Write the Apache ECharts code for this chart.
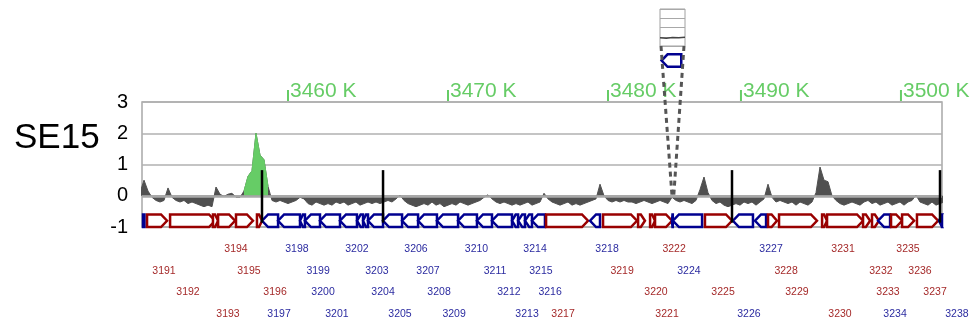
<!DOCTYPE html>
<html><head><meta charset="utf-8">
<script src="https://cdn.jsdelivr.net/npm/echarts@6/dist/echarts.min.js"></script>
<style>html,body{margin:0;padding:0;background:#fff}#c{width:976px;height:327px}</style>
</head><body><div id="c"></div><script>
// ---------------- data ----------------
const trackName = 'SE15';
const rulerLabels = ['3460 K', '3470 K', '3480 K', '3490 K', '3500 K'];
const rulerPos = [3460, 3470, 3480, 3488.31, 3498.31];

// signal (kb positions start + i*step)
const signalStart = 3450.75, signalStep = 0.25;
const signalValues = [
  0.1, 0.5, 0.15, -0.05, -0.15, -0.2, -0.15, 0.25, -0.05, -0.15,
  -0.2, -0.15, -0.25, -0.2, -0.25, -0.3, -0.35, -0.3, -0.35, 0.28,
  0.05, -0.02, 0.05, 0.08, -0.05, -0.05, 0.15, 0.62, 0.8, 2.0,
  1.3, 1.15, 0.3, -0.15, -0.2, -0.15, -0.2, -0.25, -0.2, -0.15,
  -0.05, -0.1, -0.25, -0.3, -0.2, -0.25, -0.3, -0.25, -0.3, -0.2,
  -0.25, -0.2, -0.3, -0.25, -0.2, -0.3, -0.25, -0.2, -0.25, -0.2,
  -0.25, -0.2, -0.15, -0.2, -0.1, 0.02, -0.15, -0.25, -0.3, -0.35,
  -0.3, -0.25, -0.3, -0.2, -0.3, -0.25, -0.35, -0.3, -0.25, -0.3,
  -0.2, -0.25, -0.3, -0.25, -0.2, -0.15, -0.05, 0.03, -0.1, -0.2,
  -0.25, -0.2, -0.25, -0.3, -0.25, -0.3, -0.25, -0.2, -0.3, -0.25,
  -0.2, 0.08, -0.1, -0.2, -0.25, -0.3, -0.25, -0.2, -0.3, -0.25,
  -0.3, -0.25, -0.2, -0.15, -0.1, 0.37, 0.0, -0.15, -0.2, -0.15,
  -0.2, -0.15, -0.2, -0.2, -0.25, -0.2, -0.15, -0.2, -0.25, -0.2,
  -0.15, -0.2, -0.25, -0.05, -0.15, -0.2, -0.15, -0.2, -0.25, -0.15,
  0.2, 0.6, 0.1, -0.15, -0.25, -0.2, -0.3, -0.35, -0.3, -0.25,
  -0.3, -0.2, -0.25, -0.2, -0.3, -0.2, -0.1, 0.37, -0.05, -0.2,
  -0.15, -0.2, -0.25, -0.2, -0.3, -0.2, -0.25, -0.3, -0.2, 0.1,
  0.92, 0.5, 0.45, 0.0, -0.15, -0.25, -0.3, -0.25, -0.2, -0.25,
  -0.3, -0.2, -0.15, -0.25, -0.2, -0.3, -0.25, -0.2, -0.3, -0.25,
  -0.2, -0.3, -0.2, -0.15, 0.02, -0.2, -0.25, -0.3, -0.2, -0.3,
  -0.25, -0.2
];
const peakFrom = 3457.25, peakTo = 3458.75;

const markerPos = [3458.375, 3465.94, 3487.75, 3500.75];
const markerTop = 0.82, markerBottom = -0.86;

const geneIds = ['3190','3191','3192','3193','3194','3195','3196','3197','3198','3199','3200','3201','3202','3203','3204','3205','3206','3207','3208','3209','3210','3211','3212','3213','3214','3215','3216','3217','3218','3219','3220','3221','3222','3223','3224','3225','3226','3227','3228','3229','3230','3231','3232','3233','3234','3235','3236','3237','3238'];
const geneStart = [3450.7,3451.19,3452.63,3455.31,3455.63,3456.75,3458.06,3458.38,3459.38,3460.75,3461.06,3462.0,3463.25,3464.31,3464.69,3465.0,3465.94,3467.13,3468.13,3469.31,3470.63,3471.81,3472.75,3474.0,3474.38,3474.81,3475.25,3476.13,3478.88,3479.69,3481.88,3482.63,3482.94,3484.0,3484.06,3486.06,3487.81,3489.19,3490.0,3490.69,3493.38,3493.69,3495.94,3496.5,3496.88,3497.69,3498.38,3499.31,3500.69];
const geneEnd = [3451.03,3452.44,3455.44,3455.63,3456.69,3457.81,3458.38,3459.38,3460.75,3461.06,3462.0,3463.25,3464.31,3464.69,3465.0,3465.94,3467.13,3468.13,3469.31,3470.63,3471.81,3472.75,3474.0,3474.38,3474.81,3475.25,3476.06,3478.75,3479.5,3481.81,3482.31,3482.94,3484.0,3484.05,3485.88,3487.75,3489.06,3489.88,3490.56,3493.06,3493.69,3495.94,3496.38,3496.94,3497.63,3498.38,3499.13,3500.63,3501.0];
const geneStrand = [-1,1,1,1,1,1,1,-1,-1,-1,-1,-1,-1,-1,-1,-1,-1,-1,-1,-1,-1,-1,-1,-1,-1,-1,-1,1,-1,1,1,1,1,-1,-1,1,-1,-1,1,1,1,1,1,1,-1,1,1,1,-1];

const labelIds = ['3191','3192','3193','3194','3195','3196','3197','3198','3199','3200','3201','3202','3203','3204','3205','3206','3207','3208','3209','3210','3211','3212','3213','3214','3215','3216','3217','3218','3219','3220','3221','3222','3224','3225','3226','3227','3228','3229','3230','3231','3232','3233','3234','3235','3236','3237','3238'];
const labelPos = [3452.25,3453.75,3456.25,3456.75,3457.56,3459.19,3459.44,3460.56,3461.88,3462.19,3463.06,3464.31,3465.56,3465.94,3467.0,3468.0,3468.75,3469.44,3470.38,3471.78,3472.94,3473.81,3474.94,3475.44,3475.81,3476.38,3477.19,3479.94,3480.88,3483.0,3483.69,3484.13,3485.06,3487.19,3488.81,3490.19,3491.13,3491.81,3494.5,3494.69,3497.06,3497.5,3497.94,3498.75,3499.5,3500.44,3501.81];

// inset (zoom on gene 3223)
const insetGeneId = '3223';
const insetGeneStart = 3483.995, insetGeneEnd = 3484.058;
const insetSignalPos = [3483.99, 3484.01, 3484.03, 3484.05, 3484.07];
const insetSignalValues = [-0.1, -0.15, -0.08, -0.12, -0.05];

// ---------------- chart ----------------
const FONT = '"Liberation Sans", Arial, sans-serif';
const X_MIN = 3450.875, X_MAX = 3500.875;
const INSET_MIN = 3483.99, INSET_MAX = 3484.07;
const GENE_TOP = -0.6, GENE_BOT = -1.0;
const RED = '#990000', BLUE = '#000090';
const RED_TXT = '#a52a2a', BLUE_TXT = '#2b2ba0';
const GREEN = '#66cc66';

const signalData = signalValues.map((v, i) => [signalStart + i * signalStep, v]);
const peakData = signalData.filter(d => d[0] >= peakFrom && d[0] <= peakTo);
const strandOf = {};
geneIds.forEach((id, i) => strandOf[id] = geneStrand[i]);
const geneData = geneIds.map((id, i) => [geneStart[i], geneEnd[i], geneStrand[i]]);
const labelData = labelIds.map((id, i) => [labelPos[i], (i + 1) % 4, strandOf[id], id]);

function genePolygon(x1, x2, y1, y2, strand, clipL, clipR) {
  const ym = (y1 + y2) / 2;
  let a = Math.min(6, (x2 - x1) * 0.6);
  if (strand > 0) {
    if (x2 > clipR) { x2 = clipR; a = 0; }
    x1 = Math.max(x1, clipL);
    return [[x1, y1], [x2 - a, y1], [x2, ym], [x2 - a, y2], [x1, y2]];
  } else {
    if (x1 < clipL) { x1 = clipL; a = 0; }
    x2 = Math.min(x2, clipR);
    return [[x1 + a, y1], [x2, y1], [x2, y2], [x1 + a, y2], [x1, ym]];
  }
}

const chart = echarts.init(document.getElementById('c'), null, {renderer: 'canvas'});
const option = {
  animation: false,
  backgroundColor: '#fff',
  title: {text: trackName, left: 9, top: 116,
    textStyle: {fontSize: 35, fontWeight: 'normal', color: '#000', fontFamily: FONT}},
  grid: [
    {left: 142, top: 102, width: 800, height: 125, show: true, borderColor: '#a8a8a8', borderWidth: 1.5, backgroundColor: 'transparent'},
    {left: 660, top: 9, width: 25, height: 37, show: true, borderColor: '#a0a0a0', borderWidth: 1, backgroundColor: 'transparent'}
  ],
  xAxis: [
    {type: 'value', gridIndex: 0, min: X_MIN, max: X_MAX, show: false},
    {type: 'value', gridIndex: 1, min: INSET_MIN, max: INSET_MAX, show: false}
  ],
  yAxis: [
    {type: 'value', gridIndex: 0, min: -1, max: 3, interval: 1,
      axisLine: {show: false}, axisTick: {show: false},
      axisLabel: {fontSize: 20, color: '#000', margin: 14, fontFamily: FONT},
      splitLine: {lineStyle: {color: '#b0b0b0', width: 1.5}}},
    {type: 'value', gridIndex: 1, min: -1, max: 3, interval: 1,
      axisLine: {show: false}, axisTick: {show: false}, axisLabel: {show: false},
      splitLine: {lineStyle: {color: '#a8a8a8', width: 1}}}
  ],
  series: [
    {type: 'line', name: 'signal', xAxisIndex: 0, yAxisIndex: 0, data: signalData,
      symbol: 'none', lineStyle: {color: '#505050', width: 1}, areaStyle: {color: '#505050', opacity: 1, origin: 0},
      z: 2,
      markLine: {silent: true, symbol: 'none', label: {show: false},
        lineStyle: {color: '#a8a8a8', width: 2.5, type: 'solid'}, data: [{yAxis: 0}]}},
    {type: 'line', name: 'peak', xAxisIndex: 0, yAxisIndex: 0, data: peakData,
      symbol: 'none', lineStyle: {color: GREEN, width: 1}, areaStyle: {color: GREEN, opacity: 1, origin: 0}, z: 3},
    {type: 'custom', name: 'genes', xAxisIndex: 0, yAxisIndex: 0, data: geneData, clip: false, z: 4,
      renderItem: function (params, api) {
        const cs = params.coordSys;
        const p1 = api.coord([api.value(0), GENE_TOP]);
        const p2 = api.coord([api.value(1), GENE_BOT]);
        const strand = api.value(2);
        if (p2[0] < cs.x || p1[0] > cs.x + cs.width) return null;
        const pts = genePolygon(p1[0], p2[0], p1[1], p2[1], strand, cs.x + 1, cs.x + cs.width);
        return {type: 'polygon', shape: {points: pts},
          style: {fill: '#fff', stroke: strand > 0 ? RED : BLUE, lineWidth: 2.5, lineJoin: 'miter'}};
      }},
    {type: 'custom', name: 'markers', xAxisIndex: 0, yAxisIndex: 0, data: markerPos.map(p => [p]), clip: false, z: 5,
      renderItem: function (params, api) {
        const a = api.coord([api.value(0), markerTop]);
        const b = api.coord([api.value(0), markerBottom]);
        return {type: 'line', shape: {x1: a[0], y1: a[1], x2: b[0], y2: b[1]},
          style: {stroke: '#000', lineWidth: 2.5}};
      }},
    {type: 'custom', name: 'labels', xAxisIndex: 0, yAxisIndex: 0, data: labelData, clip: false, z: 5,
      renderItem: function (params, api) {
        const p = api.coord([api.value(0), -1]);
        const row = api.value(1);
        const d = labelData[params.dataIndex];
        return {type: 'text', x: p[0], y: p[1] + 22 + row * 21.7,
          style: {text: d[3], fill: d[2] > 0 ? RED_TXT : BLUE_TXT, font: '10.5px ' + FONT,
            textAlign: 'center', textVerticalAlign: 'middle'}};
      }},
    {type: 'custom', name: 'ruler', xAxisIndex: 0, yAxisIndex: 0, data: rulerPos.map(p => [p]), clip: false, z: 5,
      renderItem: function (params, api) {
        const p = api.coord([api.value(0), 3]);
        return {type: 'group', children: [
          {type: 'line', shape: {x1: p[0], y1: p[1] - 1, x2: p[0], y2: p[1] - 12}, style: {stroke: GREEN, lineWidth: 2}},
          {type: 'text', x: p[0] + 2, y: p[1] - 11,
            style: {text: rulerLabels[params.dataIndex], fill: GREEN, font: '21px ' + FONT,
              textAlign: 'left', textVerticalAlign: 'middle'}}
        ]};
      }},
    {type: 'line', name: 'insetSignal', xAxisIndex: 1, yAxisIndex: 1,
      data: insetSignalPos.map((p, i) => [p, insetSignalValues[i]]),
      symbol: 'none', lineStyle: {color: '#444', width: 1.5}, z: 3},
    {type: 'custom', name: 'insetGene', xAxisIndex: 1, yAxisIndex: 1, clip: false, z: 4,
      data: [[insetGeneStart, insetGeneEnd, strandOf[insetGeneId]]],
      renderItem: function (params, api) {
        const p1 = api.coord([api.value(0), -1.9]);
        const p2 = api.coord([api.value(1), -3.25]);
        const strand = api.value(2);
        const pts = genePolygon(p1[0], p2[0], p1[1], p2[1], strand, -1e9, 1e9);
        return {type: 'polygon', shape: {points: pts},
          style: {fill: '#fff', stroke: strand > 0 ? RED : BLUE, lineWidth: 2.5}};
      }}
  ]
};
chart.setOption(option);

// connectors from inset to the zoomed spot on the main track
const iL = chart.convertToPixel({gridIndex: 1}, [INSET_MIN, -1]);
const iR = chart.convertToPixel({gridIndex: 1}, [INSET_MAX, -1]);
const mL = chart.convertToPixel({gridIndex: 0}, [geneStart[geneIds.indexOf(insetGeneId)], 0]);
const mR = chart.convertToPixel({gridIndex: 0}, [geneEnd[geneIds.indexOf(insetGeneId)] + 0.06, 0]);
chart.setOption({graphic: [
  {type: 'line', shape: {x1: iL[0] + 1, y1: iL[1], x2: mL[0], y2: mL[1]}, style: {stroke: '#555', lineWidth: 3, lineDash: [5, 4]}, z: 10},
  {type: 'line', shape: {x1: iR[0] - 1, y1: iR[1], x2: mR[0], y2: mR[1]}, style: {stroke: '#555', lineWidth: 3, lineDash: [5, 4]}, z: 10}
]});
</script></body></html>
